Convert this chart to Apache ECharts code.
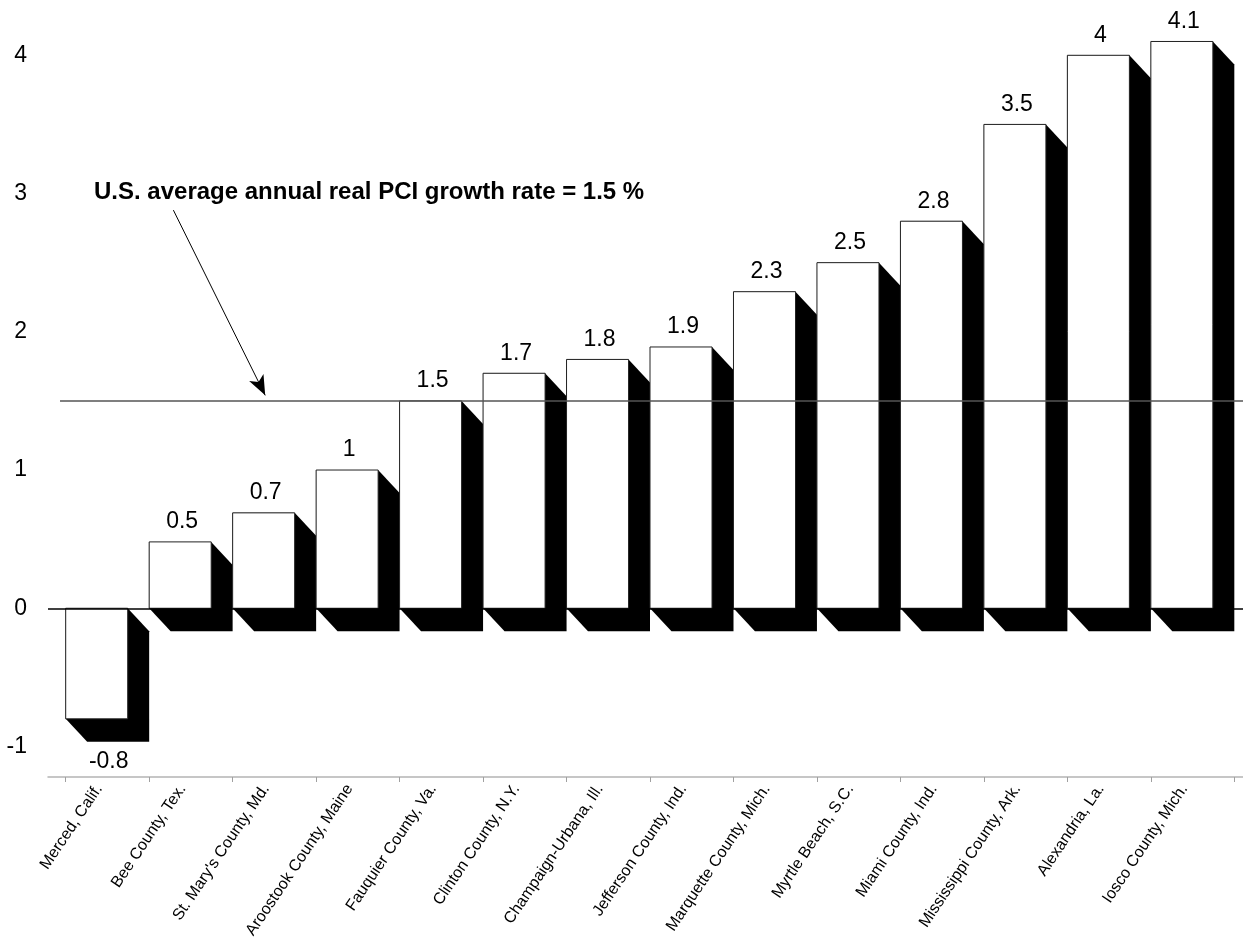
<!DOCTYPE html>
<html>
<head>
<meta charset="utf-8">
<script src="https://cdn.jsdelivr.net/npm/echarts@6/dist/echarts.min.js"></script>
<style>
html,body{margin:0;padding:0;background:#fff;}
#chart{width:1243px;height:941px;}
</style>
</head>
<body>
<div id="chart"></div>
<script>
// ---- data ----
const categories = [
  "Merced, Calif.", "Bee County, Tex.", "St. Mary's County, Md.", "Aroostook County, Maine",
  "Fauquier County, Va.", "Clinton County, N.Y.", "Champaign-Urbana, Ill.", "Jefferson County, Ind.",
  "Marquette County, Mich.", "Myrtle Beach, S.C.", "Miami County, Ind.", "Mississippi County, Ark.",
  "Alexandria, La.", "Iosco County, Mich."
];
const growthValues = [-0.8, 0.48, 0.69, 1.0, 1.5, 1.7, 1.8, 1.89, 2.29, 2.5, 2.8, 3.5, 4.0, 4.1];
const yTickValues = [-1, 0, 1, 2, 3, 4];
const usAverage = 1.5;
const annotationText = "U.S. average annual real PCI growth rate = 1.5 %";
const arrowFrom = [1.29, 2.88];
const arrowTo = [2.39, 1.54];

// ---- style constants ----
const FONT = "'Liberation Sans', Arial, sans-serif";
const FRONT = 0.743;   // front face width (category units)
const DY = 23;         // shadow depth downward (px)

const chart = echarts.init(document.getElementById('chart'), null, {renderer: 'canvas'});

const tickPositions = categories.map((c, i) => i).concat([categories.length]);
const labelPositions = categories.map((c, i) => i + 0.4);

function fmt(v) { return String(Math.round(v * 10) / 10); }

const option = {
  animation: false,
  backgroundColor: '#fff',
  title: {
    text: annotationText,
    left: 94, top: 180, padding: 0,
    textStyle: {fontFamily: FONT, fontSize: 24, fontWeight: 'bold', color: '#000'}
  },
  grid: {left: 48, right: 0, top: 0, bottom: 194.5},
  xAxis: {
    type: 'value', min: -0.212, max: 14.104, offset: 30.5,
    axisLine: {show: true, onZero: false, lineStyle: {color: '#b4b4b4', width: 1.5}},
    axisTick: {show: true, length: 5, customValues: tickPositions, lineStyle: {color: '#a0a0a0', width: 1}},
    axisLabel: {
      customValues: labelPositions, rotate: 56, margin: 9,
      fontFamily: FONT, fontSize: 16, color: '#000',
      formatter: v => categories[Math.floor(v)] || ''
    },
    splitLine: {show: false}
  },
  yAxis: {
    type: 'value', min: -1, max: 4.4, interval: 1,
    axisLine: {show: false}, axisTick: {show: false}, splitLine: {show: false},
    axisLabel: {
      margin: 21, fontFamily: FONT, fontSize: 23, color: '#000',
      formatter: v => yTickValues.includes(v) ? String(v) : ''
    }
  },
  series: [
    {
      type: 'line', data: [], z: 1, silent: true,
      markLine: {
        silent: true, symbol: 'none', label: {show: false},
        lineStyle: {color: '#000', width: 1.5, type: 'solid'},
        data: [{yAxis: 0}]
      }
    },
    {
      type: 'custom', z: 2, silent: true,
      data: growthValues.map((v, i) => [i, v]),
      renderItem: function (params, api) {
        const i = api.value(0), v = api.value(1);
        const p0 = api.coord([i, 0]);
        const p1 = api.coord([i + FRONT, v]);
        const pe = api.coord([i + 1, 0]);
        const x0 = p0[0], x1 = p1[0];
        const dx = pe[0] - x1;
        const yTop = Math.min(p0[1], p1[1]);
        const yBot = Math.max(p0[1], p1[1]);
        const children = [
          {
            type: 'polygon',
            shape: {points: [[x0, yTop], [x1, yTop], [x1 + dx, yTop + DY], [x1 + dx, yBot + DY], [x0 + dx, yBot + DY], [x0, yBot]]},
            style: {fill: '#000'}
          },
          {
            type: 'rect',
            shape: {x: x0, y: yTop, width: x1 - x0, height: yBot - yTop},
            style: {fill: '#fff', stroke: '#222', lineWidth: 1}
          }
        ];
        const lbl = v >= 0
          ? {x: (x0 + x1) / 2 + 2, y: yTop - 20}
          : {x: (x0 + x1) / 2 + 12, y: yBot + DY + 20};
        children.push({
          type: 'text',
          style: {text: fmt(v), x: lbl.x, y: lbl.y, align: 'center', verticalAlign: 'middle',
                  font: '23px ' + FONT, fill: '#000'}
        });
        return {type: 'group', children: children};
      }
    },
    {
      type: 'line', data: [], z: 3, silent: true,
      markLine: {
        silent: true, label: {show: false},
        data: [
          [{coord: [-0.068, usAverage], symbol: 'none', lineStyle: {color: '#555', width: 1.5, type: 'solid'}},
           {coord: [14.104, usAverage], symbol: 'none'}],
          [{coord: arrowFrom, symbol: 'none', lineStyle: {color: '#000', width: 1, type: 'solid'}},
           {coord: arrowTo, symbol: 'arrow', symbolSize: [12, 20]}]
        ]
      }
    }
  ]
};
chart.setOption(option);
</script>
</body>
</html>
